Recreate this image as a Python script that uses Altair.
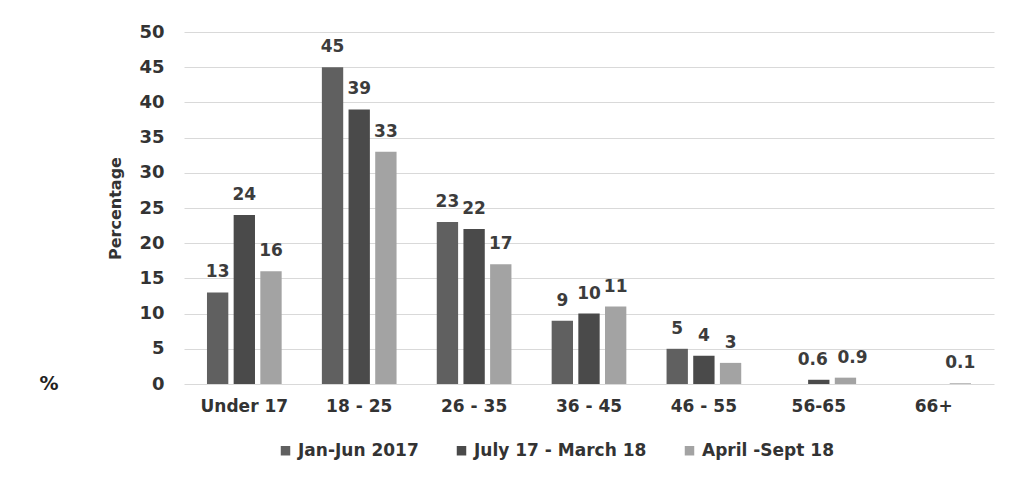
import altair as alt
import pandas as pd

categories = ["Under 17", "18 - 25", "26 - 35", "36 - 45", "46 - 55", "56-65", "66+"]
series = ["Jan-Jun 2017", "July 17 - March 18", "April -Sept 18"]
jan_jun_2017 = [13, 45, 23, 9, 5, None, None]
july17_march18 = [24, 39, 22, 10, 4, 0.6, None]
april_sept18 = [16, 33, 17, 11, 3, 0.9, 0.1]
colors = ["#606060", "#4a4a4a", "#a3a3a3"]

rows = []
for s, vals in zip(series, [jan_jun_2017, july17_march18, april_sept18]):
    for c, v in zip(categories, vals):
        if v is not None:
            rows.append({"age": c, "period": s, "value": v, "label": f"{v:g}"})
df = pd.DataFrame(rows)

FONT = "DejaVu Sans"

y_enc = alt.Y("value:Q", title="Percentage",
              scale=alt.Scale(domain=[0, 50]),
              axis=alt.Axis(values=list(range(0, 55, 5)), labelFont=FONT,
                            labelFontWeight="bold", labelFontSize=18, labelColor="#333",
                            labelPadding=20, ticks=False, domain=False,
                            gridColor="#d9d9d9", titleFont=FONT, titleFontSize=16,
                            titleFontWeight="bold", titleColor="#333", titlePadding=15))

base = alt.Chart(df).encode(
    x=alt.X("age:N", sort=categories, title=None,
            scale=alt.Scale(paddingInner=0.35, paddingOuter=0.2),
            axis=alt.Axis(labelAngle=0, labelFont=FONT, labelFontWeight="bold",
                          labelFontSize=17, labelColor="#333", labelPadding=14,
                          ticks=False, domain=False, grid=False)),
    xOffset=alt.XOffset("period:N", sort=series,
                        scale=alt.Scale(paddingInner=0.2)),
    y=y_enc,
)

bars = base.mark_bar().encode(
    color=alt.Color("period:N", sort=series,
                    scale=alt.Scale(domain=series, range=colors),
                    legend=alt.Legend(title=None, orient="none", direction="horizontal",
                                      legendX=93, legendY=410, labelLimit=400,
                                      labelFont=FONT, labelFontWeight="bold",
                                      labelFontSize=17, labelColor="#333",
                                      symbolType="square", symbolSize=90,
                                      columnPadding=34))
)

text_style = dict(font=FONT, fontWeight="bold", fontSize=17, color="#3c3c3c")

labels = base.mark_text(dy=-20, **text_style).encode(text="label:N").transform_filter(
    alt.datum.age != "56-65")
labels_left = base.mark_text(dy=-20, dx=-6, **text_style).encode(text="label:N").transform_filter(
    (alt.datum.age == "56-65") & (alt.datum.period == series[1]))
labels_right = base.mark_text(dy=-20, dx=7, **text_style).encode(text="label:N").transform_filter(
    (alt.datum.age == "56-65") & (alt.datum.period == series[2]))

pct = alt.Chart(pd.DataFrame({"t": ["%"], "value": [0]})).mark_text(
    font=FONT, fontWeight="bold", fontSize=19, color="#222"
).encode(text="t:N", y=y_enc, x=alt.value(-135))

chart = alt.layer(bars, labels, labels_left, labels_right, pct).properties(
    width=810, height=352,
    padding={"left": 31, "top": 15, "right": 10, "bottom": 5},
).configure_view(stroke=None)

chart.save("out.html", embed_options={"renderer": "svg", "actions": False})
